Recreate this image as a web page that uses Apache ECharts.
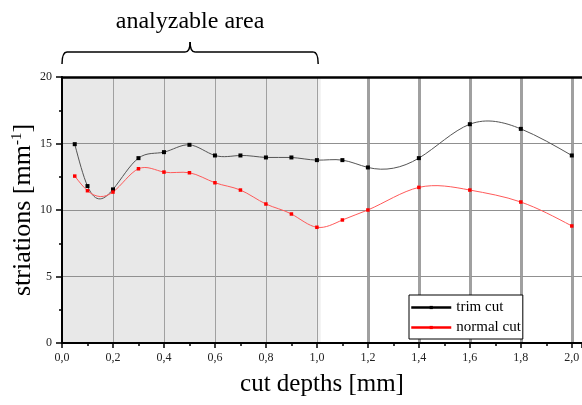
<!DOCTYPE html>
<html lang="en">
<head>
    <meta charset="UTF-8">
    <title>striations</title>
    <style>
        html, body { margin: 0; padding: 0; background: #fff; }
        #main { width: 582px; height: 405px; }
    </style>
</head>
<body>
<div id="main"></div>
<script src="https://cdn.jsdelivr.net/npm/echarts@6/dist/echarts.min.js"></script>
<script>
    // cut depths [mm]
    var depths = [0.05, 0.1, 0.2, 0.3, 0.4, 0.5, 0.6, 0.7, 0.8, 0.9, 1.0, 1.1, 1.2, 1.4, 1.6, 1.8, 2.0];
    var trimCut = [14.95, 11.8, 11.55, 13.9, 14.35, 14.9, 14.1, 14.1, 13.95, 13.95, 13.75, 13.75, 13.2, 13.9, 16.45, 16.1, 14.1];
    var normalCut = [12.55, 11.45, 11.35, 13.1, 12.85, 12.8, 12.05, 11.5, 10.45, 9.7, 8.7, 9.25, 10.0, 11.7, 11.5, 10.6, 8.8];
    // analyzable area (shaded) and the thick grid lines outside it
    var areaRange = [0, 1.0];
    var thickGridX = [1.2, 1.4, 1.6, 1.8, 2.0];

    function pairs(xs, ys) {
        var out = [];
        for (var i = 0; i < xs.length; i++) {
            out.push([xs[i], ys[i]]);
        }
        return out;
    }

    // natural cubic spline: slope at every knot
    function splineSlopes(xs, ys) {
        var n = xs.length, h = [], i;
        for (i = 0; i < n - 1; i++) h.push(xs[i + 1] - xs[i]);
        var a = [0], b = [1], c = [0], r = [0];
        for (i = 1; i < n - 1; i++) {
            a.push(h[i - 1]);
            b.push(2 * (h[i - 1] + h[i]));
            c.push(h[i]);
            r.push(6 * ((ys[i + 1] - ys[i]) / h[i] - (ys[i] - ys[i - 1]) / h[i - 1]));
        }
        a.push(0); b.push(1); c.push(0); r.push(0);
        for (i = 1; i < n; i++) {
            var m = a[i] / b[i - 1];
            b[i] -= m * c[i - 1];
            r[i] -= m * r[i - 1];
        }
        var M = new Array(n);
        M[n - 1] = r[n - 1] / b[n - 1];
        for (i = n - 2; i >= 0; i--) M[i] = (r[i] - c[i] * M[i + 1]) / b[i];
        var d = [];
        for (i = 0; i < n - 1; i++) {
            d.push((ys[i + 1] - ys[i]) / h[i] - h[i] * (2 * M[i] + M[i + 1]) / 6);
        }
        d.push((ys[n - 1] - ys[n - 2]) / h[n - 2] + h[n - 2] * (M[n - 2] + 2 * M[n - 1]) / 6);
        return d;
    }

    function splineSeries(name, ys, color) {
        var d = splineSlopes(depths, ys);
        return {
            name: name,
            type: 'custom',
            silent: true,
            z: 2,
            data: pairs(depths, ys),
            renderItem: function (params, api) {
                var i = params.dataIndex;
                if (i >= depths.length - 1) return null;
                var h = depths[i + 1] - depths[i];
                var p0 = api.coord([depths[i], ys[i]]);
                var p1 = api.coord([depths[i] + h / 3, ys[i] + d[i] * h / 3]);
                var p2 = api.coord([depths[i + 1] - h / 3, ys[i + 1] - d[i + 1] * h / 3]);
                var p3 = api.coord([depths[i + 1], ys[i + 1]]);
                return {
                    type: 'bezierCurve',
                    shape: { x1: p0[0], y1: p0[1], cpx1: p1[0], cpy1: p1[1], cpx2: p2[0], cpy2: p2[1], x2: p3[0], y2: p3[1] },
                    style: { stroke: color, lineWidth: 1, fill: null }
                };
            }
        };
    }

    var font = 'Liberation Serif';
    var myChart = echarts.init(document.getElementById('main'));

    var option = {
        animation: false,
        backgroundColor: '#fff',
        textStyle: { fontFamily: font },
        grid: { left: 62, right: 0, top: 77, bottom: 62, outerBoundsMode: 'none' },
        legend: {
            orient: 'vertical',
            left: 409,
            top: 295,
            itemWidth: 40,
            itemHeight: 4,
            itemGap: 3,
            padding: [4, 2, 3, 1],
            borderColor: '#000',
            borderWidth: 1,
            borderRadius: 0,
            backgroundColor: '#fff',
            textStyle: { fontFamily: font, fontSize: 15, color: '#000', lineHeight: 17 },
            data: [
                { name: 'trim cut', lineStyle: { color: '#000', width: 2.5, opacity: 1 }, itemStyle: { color: '#000' } },
                { name: 'normal cut', lineStyle: { color: '#f00', width: 2.5, opacity: 1 }, itemStyle: { color: '#f00' } }
            ]
        },
        xAxis: [{
            type: 'value',
            min: 0,
            max: 2.04,
            interval: 0.2,
            z: 1,
            name: 'cut depths [mm]',
            nameLocation: 'middle',
            nameGap: 29,
            nameTextStyle: { fontFamily: font, fontSize: 25, color: '#000' },
            axisLine: { lineStyle: { color: '#000', width: 2 } },
            axisTick: { length: 5, lineStyle: { color: '#000', width: 1.5 } },
            minorTick: { show: true, splitNumber: 2, length: 3, lineStyle: { color: '#000', width: 1.5 } },
            axisLabel: {
                fontFamily: font, fontSize: 12, color: '#222', margin: 9,
                showMaxLabel: false,
                formatter: function (v) { return v.toFixed(1).replace('.', ','); }
            },
            splitLine: { show: true, showMaxLine: false, lineStyle: { color: '#a0a0a0', width: 1 } }
        }, {
            type: 'value',
            position: 'top',
            min: 0,
            max: 2.04,
            z: 1,
            axisLine: { show: true, lineStyle: { color: '#000', width: 2.5 } },
            axisTick: { show: false },
            axisLabel: { show: false },
            splitLine: { show: false }
        }],
        yAxis: {
            type: 'value',
            min: 0,
            max: 20,
            interval: 5,
            z: 1,
            name: 'striations [mm{sup|-1}]',
            nameLocation: 'middle',
            nameGap: 26,
            nameMoveOverlap: false,
            nameTextStyle: {
                fontFamily: font, fontSize: 26, color: '#000',
                rich: { sup: { fontFamily: font, fontSize: 15, verticalAlign: 'top', padding: [0, 0, 10, 0] } }
            },
            axisLine: { show: true, lineStyle: { color: '#000', width: 2 } },
            axisTick: { show: true, length: 6, lineStyle: { color: '#000', width: 1.5 } },
            minorTick: { show: true, splitNumber: 2, length: 3, lineStyle: { color: '#000', width: 1.5 } },
            axisLabel: { fontFamily: font, fontSize: 12, color: '#222', margin: 10 },
            splitLine: { show: true, lineStyle: { color: '#909090', width: 1 } }
        },
        series: [{
            name: 'area',
            type: 'line',
            data: [],
            z: 0,
            silent: true,
            markArea: {
                silent: true,
                z: 0,
                itemStyle: { color: '#e8e8e8' },
                data: [
                    [{ xAxis: areaRange[0] }, { xAxis: areaRange[1] }],
                    [{ xAxis: areaRange[1], itemStyle: { color: '#f0f0f0' } }, { xAxis: areaRange[1] + 0.015 }]
                ]
            },
            markLine: {
                silent: true,
                z: 0,
                symbol: 'none',
                label: { show: false },
                lineStyle: { type: 'solid', color: '#808080', width: 2.5 },
                data: thickGridX.map(function (x) { return { xAxis: x }; })
            }
        },
        splineSeries('trim cut spline', trimCut, '#555'),
        splineSeries('normal cut spline', normalCut, '#ff5a5a'),
        {
            name: 'trim cut',
            type: 'line',
            z: 3,
            data: pairs(depths, trimCut),
            symbol: 'rect',
            symbolSize: 4,
            itemStyle: { color: '#000' },
            lineStyle: { color: '#000', width: 2.5, opacity: 0 }
        }, {
            name: 'normal cut',
            type: 'line',
            z: 3,
            data: pairs(depths, normalCut),
            symbol: 'rect',
            symbolSize: 3.5,
            itemStyle: { color: '#f00' },
            lineStyle: { color: '#f00', width: 2.5, opacity: 0 }
        }]
    };
    myChart.setOption(option);

    // brace above the analyzable area
    var bx0 = myChart.convertToPixel({ xAxisIndex: 0 }, areaRange[0]);
    var bx1 = myChart.convertToPixel({ xAxisIndex: 0 }, areaRange[1] + 0.005);
    var bm = (bx0 + bx1) / 2;
    var yb = 64, yh = 52, yt = 42;
    var braceStyle = { stroke: '#000', lineWidth: 1.5, fill: null };
    myChart.setOption({
        graphic: [
            { type: 'bezierCurve', shape: { x1: bx0, y1: yb, cpx1: bx0, cpy1: yh, x2: bx0 + 5, y2: yh }, style: braceStyle },
            { type: 'line', shape: { x1: bx0 + 5, y1: yh, x2: bm - 5, y2: yh }, style: braceStyle },
            { type: 'bezierCurve', shape: { x1: bm - 5, y1: yh, cpx1: bm, cpy1: yh, x2: bm, y2: yt }, style: braceStyle },
            { type: 'bezierCurve', shape: { x1: bm, y1: yt, cpx1: bm, cpy1: yh, x2: bm + 5, y2: yh }, style: braceStyle },
            { type: 'line', shape: { x1: bm + 5, y1: yh, x2: bx1 - 5, y2: yh }, style: braceStyle },
            { type: 'bezierCurve', shape: { x1: bx1 - 5, y1: yh, cpx1: bx1, cpy1: yh, x2: bx1, y2: yb }, style: braceStyle },
            {
                type: 'text',
                x: bm,
                y: 22,
                style: {
                    text: 'analyzable area',
                    font: '24px "Liberation Serif"',
                    fill: '#000',
                    align: 'center',
                    verticalAlign: 'middle'
                }
            }
        ]
    });
</script>
</body>
</html>
